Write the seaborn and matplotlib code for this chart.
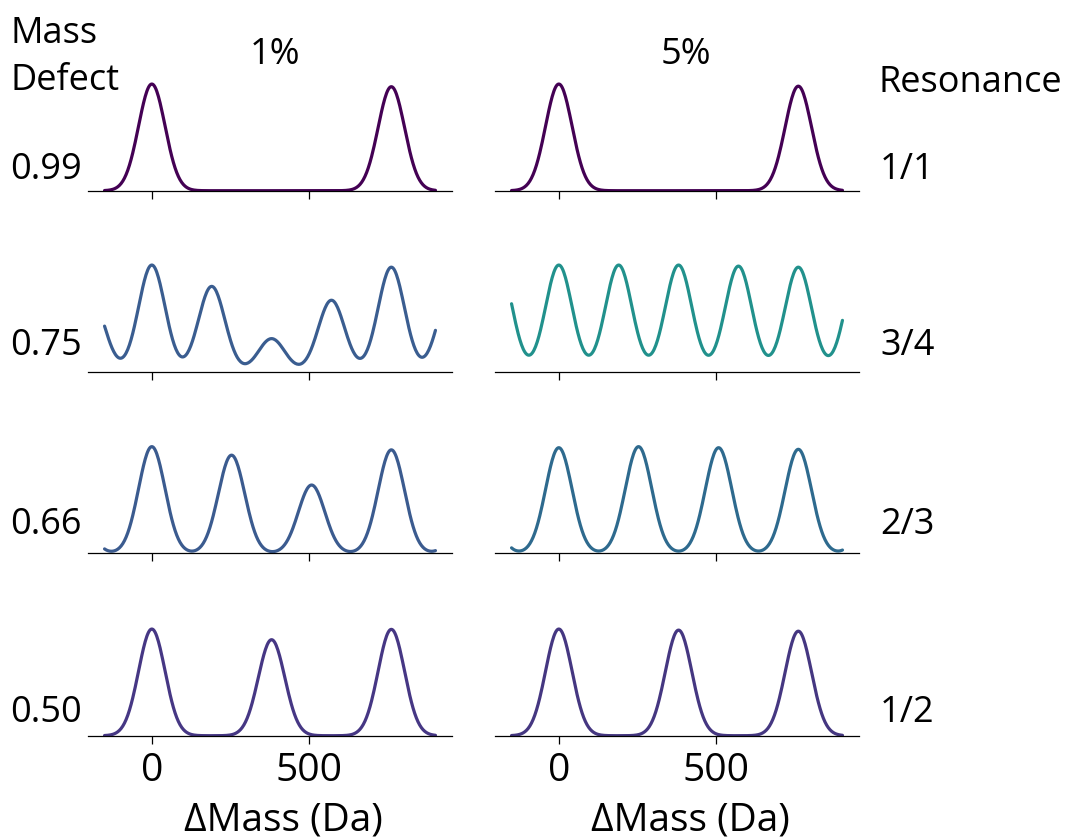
import numpy as np
import pandas as pd
import matplotlib
matplotlib.use("Agg")
import matplotlib.pyplot as plt
import seaborn as sns

# ---------------- data ----------------
mass_defects = ["0.99", "0.75", "0.66", "0.50"]
resonances = ["1/1", "3/4", "2/3", "1/2"]
noise_levels = ["1%", "5%"]

# peak positions (Da) for each resonance row
pos_11 = [0, 760]
pos_34 = [-190, 0, 190, 380, 570, 760, 950]
pos_23 = [-253, 0, 253, 507, 760, 1013]
pos_12 = [0, 380, 760]

# relative peak weights, 1% column
w1_11 = [1.0, 0.975]
w1_34 = [0.67, 1.0, 0.80, 0.31, 0.67, 0.98, 0.78]
w1_23 = [0.8, 1.0, 0.92, 0.64, 0.97, 0.8]
w1_12 = [1.0, 0.90, 0.997]

# relative peak weights, 5% column
w5_11 = [1.0, 0.98]
w5_34 = [1.0, 1.0, 1.0, 1.0, 0.99, 0.98, 0.97]
w5_23 = [1.0, 0.99, 1.0, 0.99, 0.975, 1.0]
w5_12 = [1.0, 0.99, 0.98]

colors_1 = ["#440154", "#3a5d90", "#3b5b8f", "#463784"]
colors_5 = ["#440154", "#21918c", "#2e6a8e", "#453781"]

xticks = [0, 500]
x_range = (-150, 900)
bandwidth = 42.0

positions = [pos_11, pos_34, pos_23, pos_12]
weights = {0: [w1_11, w1_34, w1_23, w1_12], 1: [w5_11, w5_34, w5_23, w5_12]}
colors = {0: colors_1, 1: colors_5}

# ---------------- style ----------------
sns.set_style("white")
plt.rcParams["font.family"] = ["Open Sans", "DejaVu Sans"]
plt.rcParams["text.color"] = "black"
plt.rcParams["axes.labelcolor"] = "black"
plt.rcParams["xtick.color"] = "black"

W, H = 1065, 840
fig = plt.figure(figsize=(W / 100, H / 100), dpi=100)

def fx(x):
    return x / W

def fy(y):
    return 1 - y / H

col_left = [88, 495]
col_width = 364
row_bottom = [190.7, 371.7, 553.3, 735.7]
ax_h = 112

for r in range(4):
    for c in range(2):
        ax = fig.add_axes([fx(col_left[c]), fy(row_bottom[r]), col_width / W, ax_h / H])
        df = pd.DataFrame({"mass": positions[r], "w": weights[c][r]})
        sd = np.sqrt(np.cov(np.asarray(df["mass"], float), aweights=np.asarray(df["w"], float), bias=False))
        sns.kdeplot(data=df, x="mass", weights="w", bw_method=bandwidth / sd,
                    cut=4, clip=x_range, gridsize=400,
                    color=colors[c][r], linewidth=2.3, ax=ax)
        ymax = ax.lines[0].get_ydata().max()
        ax.set_ylim(0, ymax * 1.05)
        ax.set_xticks(xticks)
        ax.set_yticks([])
        ax.set_ylabel("")
        for s in ["left", "top", "right"]:
            ax.spines[s].set_visible(False)
        ax.spines["bottom"].set_color("black")
        ax.spines["bottom"].set_linewidth(0.9)
        ax.tick_params(axis="x", direction="out", length=6, width=0.9, color="black",
                       labelcolor="black", bottom=True, labelsize=28, pad=6)
        if r < 3:
            ax.set_xticklabels([])
            ax.set_xlabel("")
        else:
            ax.set_xticklabels([str(t) for t in xticks])
            ax.set_xlabel("ΔMass (Da)", fontsize=28, color="black")
            ax.xaxis.set_label_coords(0.5 + 13 / col_width, -(802 - row_bottom[3]) / ax_h)

# ---------------- annotations ----------------
fs = 26
fig.text(fx(10), fy(43), "Mass", fontsize=fs, ha="left", va="baseline")
fig.text(fx(10), fy(90), "Defect", fontsize=fs, ha="left", va="baseline")
fig.text(fx(275), fy(64), noise_levels[0], fontsize=fs, ha="center", va="baseline")
fig.text(fx(686), fy(64), noise_levels[1], fontsize=fs, ha="center", va="baseline")
fig.text(fx(878), fy(92), "Resonance", fontsize=fs, ha="left", va="baseline")

label_baselines = [179, 355, 534, 722]
for r in range(4):
    fig.text(fx(10), fy(label_baselines[r]), mass_defects[r], fontsize=fs, ha="left", va="baseline")
    fig.text(fx(880), fy(label_baselines[r]), resonances[r], fontsize=fs, ha="left", va="baseline")

fig.savefig("out.png", dpi=100)
